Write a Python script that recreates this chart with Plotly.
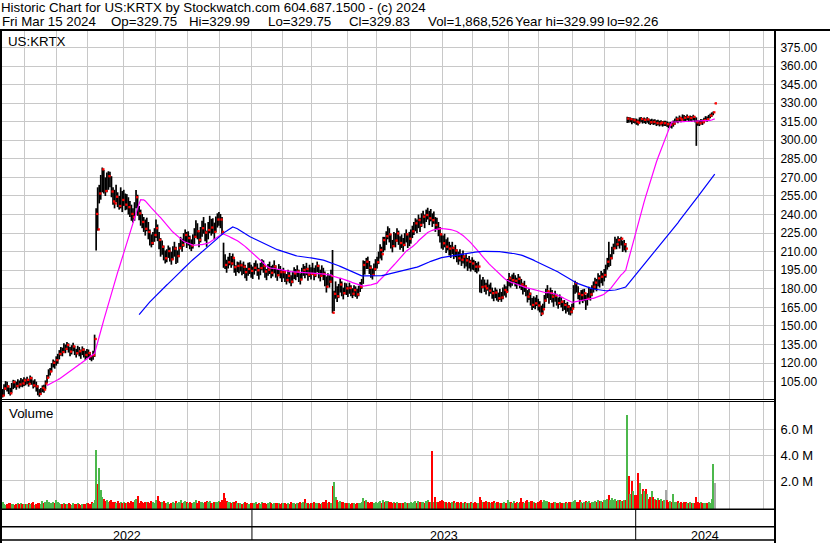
import numpy as np
import pandas as pd
import plotly.graph_objects as go

# ---------------- data ----------------
first_day = "2022-05-10"
last_axis_day = "2024-06-28"
market_holidays = [
    "2022-05-30", "2022-06-20", "2022-07-04", "2022-09-05", "2022-11-24", "2022-12-26",
    "2023-01-02", "2023-01-16", "2023-02-20", "2023-04-07", "2023-05-29", "2023-06-19",
    "2023-07-04", "2023-09-04", "2023-11-23", "2023-12-25",
    "2024-01-01", "2024-01-15", "2024-02-19", "2024-03-29", "2024-05-27", "2024-06-19",
]

close = [
    # 2022 May
    93.7, 99.5, 103.4, 101.2, 97.8, 95.6, 100.4, 104.6, 103.0, 101.5, 104.2, 102.8, 105.1, 103.6, 106.0,
    # Jun
    104.8, 106.5, 103.2, 107.8, 105.4, 102.0, 104.6, 101.2, 97.5, 95.1, 96.8, 99.9, 98.6, 103.5, 108.2,
    112.4, 113.2, 117.5, 120.3, 119.0, 122.4,
    # Jul
    124.5, 127.4, 130.6, 128.9, 133.2, 131.5, 134.6, 132.0, 129.3, 131.8, 133.5, 130.2, 128.0, 131.4,
    129.6, 127.2, 130.8, 128.5, 126.6, 128.9,
    # Aug
    128.2, 125.6, 123.3, 126.4, 139.5, 240.5, 228.0, 257.0, 268.0, 276.5, 261.2, 259.0, 265.2, 271.0,
    269.3, 258.6, 250.6, 249.0, 254.4, 252.0, 246.9, 255.0, 251.8,
    # Sep
    254.4, 248.0, 252.5, 246.0, 245.0, 240.5, 238.0, 246.4, 254.0, 244.5, 241.0, 236.5, 234.0, 231.6,
    228.5, 233.0, 226.0, 220.5, 217.0, 221.5, 223.5,
    # Oct
    229.0, 224.0, 219.5, 211.3, 214.0, 208.5, 204.7, 206.0, 210.5, 207.3, 203.8, 210.0, 212.5, 203.3,
    206.5, 213.0, 218.0, 215.5, 220.5, 223.5, 219.5,
    # Nov
    221.0, 216.8, 214.9, 218.5, 222.0, 228.9, 226.5, 219.5, 224.0, 229.0, 231.0, 225.5, 220.0, 227.5,
    232.0, 229.5, 230.8, 226.0, 233.0, 236.0, 238.3,
    # Dec
    236.0, 226.0, 205.5, 199.3, 196.7, 201.5, 204.7, 200.5, 205.0, 197.5, 193.9, 198.5, 196.7, 199.0,
    195.0, 197.8, 193.5, 191.2, 196.0, 196.8, 194.5,
    # 2023 Jan
    192.5, 197.0, 199.3, 195.0, 192.0, 196.8, 200.5, 198.4, 194.0, 191.2, 195.5, 197.8, 193.0, 195.2,
    198.0, 194.5, 191.0, 196.0, 193.5, 190.5,
    # Feb
    193.5, 189.8, 187.1, 190.5, 188.8, 185.8, 189.0, 192.5, 191.2, 194.0, 190.0, 187.5, 192.5, 195.2,
    193.0, 196.0, 191.5, 194.5, 192.0,
    # Mar
    196.5, 191.2, 194.0, 198.5, 193.0, 190.5, 195.0, 192.0, 189.0, 181.7, 188.5, 185.8, 190.4, 160.7,
    176.0, 181.7, 174.0, 178.5, 183.5, 180.0, 176.5, 181.7, 180.4,
    # Apr
    177.5, 180.7, 178.0, 176.0, 179.0, 177.7, 175.5, 178.5, 181.7, 184.0, 199.3, 196.6, 201.9, 200.6,
    197.0, 193.9, 191.2, 196.0, 199.5,
    # May
    201.5, 205.5, 211.4, 208.0, 219.4, 216.8, 222.5, 227.5, 224.0, 218.0, 214.5, 222.0, 219.0, 224.8,
    221.5, 217.0, 219.4, 215.5, 220.5, 224.0, 218.5, 220.5,
    # Jun
    223.0, 226.5, 229.0, 232.9, 230.5, 235.6, 231.6, 236.0, 238.3, 234.5, 239.6, 241.5, 237.0, 240.0,
    235.5, 238.0, 231.6, 233.0, 228.5, 224.0, 218.0,
    # Jul
    216.8, 219.5, 214.0, 216.0, 212.5, 210.0, 213.0, 208.7, 211.0, 206.5, 204.7, 207.5, 203.5, 206.0,
    201.5, 203.0, 199.5, 201.9, 198.5, 200.5,
    # Aug
    199.0, 197.9, 196.5, 198.0, 186.0, 181.5, 185.8, 182.0, 180.4, 183.5, 178.5, 181.0, 176.5, 173.7,
    177.0, 174.5, 172.4, 175.5, 173.0, 176.0, 179.0, 177.5, 183.0,
    # Sep
    188.5, 185.5, 187.0, 190.0, 186.5, 184.5, 188.0, 185.0, 183.5, 180.0, 182.0, 178.5, 173.7, 176.0,
    171.5, 167.0, 169.5, 168.3, 171.0, 166.5,
    # Oct
    165.6, 160.0, 163.5, 170.5, 175.0, 178.0, 172.5, 176.5, 173.7, 170.0, 174.5, 171.0, 168.5, 172.0,
    169.6, 166.0, 167.0, 164.0, 165.6, 162.5, 161.5, 164.0,
    # Nov
    178.0, 184.5, 181.7, 176.0, 172.4, 175.0, 173.7, 176.4, 168.3, 172.0, 177.7, 175.5, 179.0, 181.7,
    185.0, 183.0, 188.5, 186.0, 189.8, 187.5, 191.2,
    # Dec
    196.0, 201.9, 199.0, 204.7, 210.5, 212.7, 219.4, 216.0, 219.4, 216.8, 220.5, 214.0, 216.0, 212.5,
    317.5, 316.2, 317.0, 315.4, 316.2, 315.6,
    # 2024 Jan
    315.0, 314.2, 316.4, 317.2, 315.8, 316.5, 315.6, 316.8, 315.2, 314.6, 315.5, 314.8, 315.0, 313.9,
    314.5, 313.6, 314.2, 313.2, 313.8, 313.8, 313.0,
    # Feb
    312.0, 312.5, 311.8, 313.5, 315.2, 317.0, 316.2, 317.8, 316.8, 319.0, 318.2, 317.5, 318.8, 317.2,
    318.0, 317.5, 318.9, 317.0, 314.5, 314.0,
    # Mar
    313.8, 315.3, 314.6, 316.2, 317.8, 317.0, 318.6, 319.9, 320.8, 322.6, 329.83,
]

high = [
    99.0, 103.0, 105.5, 105.0, 102.0, 100.0, 104.0, 106.5, 106.0, 105.0, 107.0, 106.0, 108.0, 107.0, 108.5,
    107.5, 109.0, 107.0, 110.0, 109.0, 106.0, 107.0, 105.0, 102.0, 99.0, 100.0, 102.0, 102.5, 106.0, 110.5,
    115.0, 116.0, 120.0, 123.0, 122.0, 125.5,
    127.5, 130.5, 133.0, 132.5, 136.0, 135.0, 137.0, 136.0, 133.0, 134.5, 136.5, 134.0, 131.5, 134.0,
    133.0, 131.0, 133.5, 132.0, 130.0, 131.5,
    131.0, 129.0, 126.5, 130.0, 143.0, 245.0, 262.0, 264.0, 272.0, 278.0, 276.0, 270.0, 274.0, 275.0,
    274.5, 271.0, 262.0, 260.0, 264.0, 258.0, 255.0, 262.0, 259.0,
    260.0, 257.0, 256.5, 254.0, 251.0, 248.0, 245.0, 250.0, 259.8, 256.0, 247.0, 244.0, 240.5, 238.0,
    236.0, 237.5, 234.0, 228.0, 224.0, 226.0, 229.0,
    236.0, 232.0, 226.0, 221.0, 219.0, 215.0, 211.0, 212.0, 215.0, 213.5, 210.0, 214.5, 218.0, 214.0,
    211.0, 217.0, 222.0, 220.5, 225.0, 228.0, 226.0,
    226.5, 223.0, 220.0, 224.0, 229.0, 235.5, 233.0, 226.0, 230.0, 235.0, 238.0, 233.0, 227.0, 234.0,
    239.0, 236.5, 237.0, 233.5, 238.5, 241.0, 242.0,
    240.5, 238.0, 217.3, 208.0, 203.5, 206.0, 209.0, 206.5, 208.5, 204.0, 199.0, 202.0, 201.5, 203.0,
    200.5, 202.0, 199.5, 197.0, 201.0, 201.5, 199.5,
    198.0, 201.0, 203.0, 200.5, 197.0, 201.0, 204.0, 203.0, 199.0, 196.0, 200.0, 202.0, 198.5, 199.5,
    203.0, 199.0, 196.0, 200.0, 198.5, 195.5,
    197.0, 195.0, 192.0, 195.5, 193.5, 191.0, 194.0, 197.5, 196.0, 199.0, 195.5, 192.5, 197.0, 200.0,
    198.5, 201.0, 197.0, 199.5, 197.5,
    201.0, 197.0, 199.0, 202.0, 199.5, 195.5, 199.0, 197.0, 194.0, 190.0, 192.5, 191.0, 195.5, 211.4,
    178.5, 186.0, 182.0, 184.0, 188.6, 186.0, 181.0, 185.0, 184.5,
    182.0, 185.0, 183.0, 180.5, 183.0, 182.0, 180.0, 182.5, 185.5, 188.0, 203.0, 202.5, 205.0, 206.0,
    202.5, 199.0, 196.5, 200.5, 204.0,
    206.0, 210.0, 216.0, 214.0, 222.0, 222.0, 226.5, 230.5, 229.0, 224.0, 219.5, 226.0, 225.0, 229.0,
    227.0, 222.5, 224.0, 221.0, 225.0, 228.0, 224.5, 226.0,
    228.0, 231.0, 234.0, 237.0, 236.0, 240.0, 237.5, 241.0, 243.0, 240.0, 244.0, 245.5, 243.0, 244.5,
    241.0, 242.5, 238.0, 237.5, 234.0, 230.0, 225.0,
    223.0, 224.5, 220.0, 221.5, 218.0, 215.5, 218.0, 214.0, 215.5, 212.0, 210.0, 212.0, 208.5, 211.0,
    207.0, 208.0, 205.0, 206.5, 203.5, 205.5,
    203.5, 202.5, 201.0, 202.0, 191.5, 187.5, 189.5, 187.5, 185.0, 187.5, 183.5, 185.0, 181.0, 178.5,
    181.0, 179.5, 177.0, 180.0, 177.5, 181.0, 183.5, 182.0, 188.0,
    192.8, 190.0, 191.5, 193.0, 191.0, 189.0, 192.0, 190.0, 188.0, 185.0, 186.5, 183.0, 179.0, 180.5,
    177.0, 172.5, 174.0, 173.0, 175.0, 172.0,
    170.0, 166.5, 168.0, 175.0, 180.0, 183.0, 178.0, 181.0, 179.0, 175.5, 178.5, 176.0, 173.0, 175.5,
    173.4, 170.5, 171.0, 168.5, 169.5, 167.0, 165.5, 168.0,
    183.0, 186.5, 185.5, 182.0, 177.0, 179.0, 179.5, 180.0, 175.0, 176.5, 181.7, 180.0, 183.0, 186.0,
    189.0, 188.0, 192.5, 191.0, 194.5, 193.0, 196.0,
    199.5, 205.0, 218.0, 208.0, 214.0, 216.5, 222.0, 220.5, 222.5, 221.0, 222.0, 219.0, 219.5, 217.0,
    319.0, 318.8, 318.5, 318.0, 317.8, 317.6,
    317.5, 316.8, 318.5, 318.8, 318.0, 318.5, 317.6, 318.7, 317.5, 316.9, 317.4, 316.8, 316.9, 316.2,
    316.5, 315.8, 316.2, 315.5, 315.7, 315.8, 315.2,
    314.5, 314.8, 314.0, 316.0, 317.5, 319.2, 318.5, 320.0, 319.0, 320.9, 320.4, 319.6, 320.8, 319.5,
    320.0, 319.5, 320.6, 319.2, 318.5, 316.2,
    316.0, 317.2, 316.8, 318.2, 319.5, 319.2, 320.5, 321.5, 322.5, 323.2, 329.99,
]

low = [
    92.26, 93.5, 98.5, 97.0, 95.0, 93.8, 96.0, 99.0, 100.0, 98.5, 100.5, 99.5, 101.0, 100.5, 101.5,
    102.0, 103.0, 101.0, 103.5, 102.5, 99.5, 100.5, 97.0, 94.0, 92.8, 94.5, 96.5, 96.0, 99.0, 104.0,
    108.0, 110.0, 113.0, 116.5, 115.5, 118.0,
    119.5, 123.0, 126.0, 125.5, 128.5, 128.0, 130.5, 128.5, 125.5, 127.0, 129.5, 126.5, 124.5, 127.0,
    125.5, 123.5, 126.5, 124.5, 122.5, 124.0,
    124.5, 122.5, 121.5, 122.8, 125.0, 211.0, 227.0, 249.0, 252.0, 258.0, 257.0, 255.0, 258.0, 260.0,
    262.0, 254.0, 248.0, 245.0, 250.0, 246.0, 244.0, 245.0, 242.0,
    247.0, 243.5, 244.0, 240.0, 238.0, 235.0, 233.5, 235.0, 245.0, 239.0, 235.5, 231.0, 229.0, 226.0,
    223.0, 226.5, 220.0, 215.0, 213.5, 215.5, 218.0,
    221.0, 218.5, 212.0, 206.0, 207.5, 203.0, 200.5, 201.5, 205.0, 202.0, 199.5, 203.5, 206.0, 200.0,
    201.0, 205.5, 212.0, 210.0, 214.0, 217.5, 213.0,
    215.0, 212.0, 210.5, 212.5, 216.0, 221.5, 220.0, 213.5, 217.5, 222.0, 224.5, 218.5, 214.0, 220.0,
    225.0, 223.0, 224.5, 220.0, 226.0, 229.5, 231.0,
    229.0, 224.0, 197.0, 196.0, 193.0, 196.5, 199.0, 197.0, 199.0, 193.0, 190.5, 193.5, 192.5, 194.0,
    191.0, 192.0, 188.5, 186.5, 190.5, 192.0, 189.0,
    188.0, 191.5, 194.5, 190.5, 187.5, 191.0, 195.0, 193.0, 189.0, 187.0, 190.5, 192.0, 188.5, 190.0,
    192.5, 189.0, 186.5, 190.5, 188.5, 185.5,
    188.5, 185.5, 183.5, 186.0, 184.5, 182.0, 184.5, 188.0, 187.0, 189.5, 185.5, 183.5, 187.5, 190.5,
    188.5, 191.0, 186.5, 189.5, 187.5,
    192.0, 187.0, 189.5, 193.5, 188.5, 186.0, 190.0, 187.0, 182.0, 177.0, 182.5, 181.0, 185.0, 160.3,
    162.0, 172.0, 169.4, 172.5, 177.0, 174.0, 171.5, 175.5, 175.0,
    173.4, 176.0, 174.0, 172.5, 174.5, 173.5, 172.0, 174.0, 177.5, 180.0, 184.0, 191.5, 196.0, 196.0,
    192.0, 189.0, 187.5, 190.5, 194.5,
    196.5, 200.0, 204.5, 203.0, 209.5, 211.0, 215.5, 220.0, 217.5, 212.5, 209.5, 214.0, 213.5, 218.0,
    215.5, 211.5, 213.0, 210.0, 214.5, 217.5, 213.0, 214.5,
    216.5, 221.0, 223.5, 226.5, 225.0, 229.0, 226.0, 230.0, 232.5, 229.0, 234.0, 236.0, 231.5, 234.5,
    230.0, 232.5, 226.0, 227.5, 222.5, 217.5, 212.5,
    211.5, 213.5, 209.0, 211.0, 207.0, 205.0, 208.0, 204.0, 205.5, 201.5, 199.5, 202.0, 198.5, 200.5,
    196.5, 198.0, 194.5, 196.5, 194.0, 195.5,
    195.0, 193.5, 192.5, 194.0, 177.0, 176.5, 180.5, 177.5, 175.5, 178.5, 174.0, 176.0, 172.0, 170.0,
    172.5, 170.5, 169.5, 171.0, 169.5, 171.5, 174.5, 173.0, 177.5,
    182.0, 181.0, 182.5, 185.0, 182.0, 180.0, 183.0, 180.5, 179.0, 175.5, 177.5, 174.0, 169.0, 171.0,
    166.5, 163.0, 164.5, 163.5, 166.0, 162.5,
    161.0, 158.0, 159.5, 164.5, 169.5, 172.5, 168.0, 171.0, 169.0, 165.5, 169.5, 166.5, 164.0, 167.0,
    165.0, 162.0, 163.0, 160.0, 161.5, 159.0, 158.5, 160.0,
    164.5, 176.0, 177.0, 171.5, 167.5, 170.0, 168.5, 170.0, 163.0, 166.5, 171.5, 170.5, 174.0, 177.0,
    179.5, 178.0, 182.0, 181.0, 184.5, 182.5, 186.0,
    189.0, 195.5, 197.5, 198.5, 204.0, 208.0, 212.5, 212.0, 214.5, 212.5, 215.0, 209.8, 211.0, 209.5,
    314.0, 314.2, 314.5, 313.0, 314.0, 313.5,
    312.5, 312.0, 313.8, 314.6, 313.5, 314.0, 313.2, 314.2, 313.0, 312.3, 313.2, 312.4, 312.8, 311.5,
    312.2, 311.2, 312.0, 311.0, 311.5, 311.5, 310.8,
    309.8, 310.2, 309.5, 311.0, 312.5, 314.5, 313.8, 315.2, 314.5, 316.0, 315.6, 315.0, 316.2, 314.8,
    315.5, 315.0, 316.0, 314.5, 295.5, 311.8,
    311.5, 312.8, 312.4, 313.8, 315.5, 315.0, 316.6, 317.8, 318.8, 320.2, 329.75,
]

volume_m = [
    0.35, 0.22, 0.18, 0.25, 0.30, 0.28, 0.20, 0.24, 0.18, 0.22, 0.26, 0.20, 0.32, 0.25, 0.22,
    0.20, 0.24, 0.30, 0.22, 0.26, 0.35, 0.18, 0.22, 0.28, 0.30, 0.24, 0.45, 0.32, 0.38, 0.55,
    0.40, 0.30, 0.26, 0.34, 0.28, 0.50,
    0.35, 0.30, 0.25, 0.22, 0.28, 0.20, 0.24, 0.30, 0.22, 0.18, 0.26, 0.20, 0.24, 0.28, 0.22,
    0.18, 0.20, 0.25, 0.22, 0.30,
    0.28, 0.24, 0.35, 0.30, 0.55, 4.40, 1.75, 3.00, 1.30, 0.75, 0.60, 0.45, 0.50, 0.38, 0.42,
    0.55, 0.35, 0.40, 0.30, 0.45, 0.32, 0.38, 0.30,
    0.35, 0.28, 0.30, 0.40, 0.32, 0.45, 0.35, 0.50, 0.62, 0.85, 0.30, 0.42, 0.35, 0.28, 0.40,
    0.40, 0.35, 0.30, 0.45, 0.38, 0.32,
    0.55, 0.85, 0.45, 0.40, 0.35, 0.48, 0.30, 0.28, 0.35, 0.25, 0.32, 0.40, 0.30, 0.45, 0.28,
    0.35, 0.50, 0.30, 0.40, 0.45, 0.35,
    0.30, 0.35, 0.28, 0.32, 0.40, 0.55, 0.30, 0.45, 0.35, 0.40, 0.32, 0.38, 0.48, 0.35, 0.42,
    0.30, 0.28, 0.35, 0.40, 0.38, 0.45,
    0.40, 0.50, 1.10, 0.65, 0.45, 0.35, 0.40, 0.30, 0.38, 0.35, 0.42, 0.28, 0.32, 0.30, 0.25,
    0.28, 0.35, 0.30, 0.25, 0.22, 0.28,
    0.30, 0.28, 0.35, 0.25, 0.30, 0.22, 0.40, 0.32, 0.28, 0.25, 0.30, 0.35, 0.28, 0.22, 0.30,
    0.26, 0.32, 0.28, 0.24, 0.30,
    0.28, 0.32, 0.25, 0.30, 0.22, 0.35, 0.28, 0.30, 0.25, 0.32, 0.28, 0.40, 0.30, 0.35, 0.60,
    0.28, 0.32, 0.25, 0.30,
    0.30, 0.35, 0.28, 0.32, 0.30, 0.25, 0.28, 0.35, 0.40, 0.50, 0.32, 0.35, 0.30, 1.60, 1.90,
    0.80, 0.50, 0.40, 0.45, 0.35, 0.38, 0.30, 0.28,
    0.28, 0.32, 0.25, 0.30, 0.28, 0.22, 0.30, 0.26, 0.32, 0.40, 0.70, 0.45, 0.50, 0.38, 0.32,
    0.35, 0.40, 0.30, 0.35,
    0.30, 0.35, 0.45, 0.32, 0.50, 0.38, 0.42, 0.48, 0.35, 0.40, 0.32, 0.38, 0.30, 0.35, 0.28,
    0.32, 0.30, 0.26, 0.35, 0.30, 0.28, 0.32,
    0.35, 0.30, 0.38, 0.42, 0.32, 0.45, 0.35, 0.40, 0.38, 0.30, 0.42, 0.50, 0.35, 0.40, 4.30,
    0.40, 0.75, 0.35, 0.40, 0.45, 0.50,
    0.45, 0.35, 0.40, 0.30, 0.38, 0.32, 0.35, 0.42, 0.30, 0.35, 0.40, 0.32, 0.38, 0.30, 0.35,
    0.28, 0.32, 0.30, 0.35, 0.28,
    0.30, 0.35, 0.32, 0.28, 0.75, 0.50, 0.40, 0.35, 0.45, 0.38, 0.40, 0.32, 0.35, 0.42, 0.30,
    0.35, 0.38, 0.30, 0.28, 0.32, 0.35, 0.30, 0.55,
    0.40, 0.35, 0.30, 0.45, 0.32, 0.38, 0.30, 0.35, 0.70, 0.40, 0.32, 0.45, 0.50, 0.35, 0.42,
    0.48, 0.35, 0.30, 0.32, 0.40,
    0.45, 0.55, 0.38, 0.50, 0.42, 0.45, 0.35, 0.32, 0.30, 0.35, 0.40, 0.32, 0.30, 0.35, 0.28,
    0.32, 0.30, 0.35, 0.30, 0.38, 0.35, 0.40,
    0.45, 0.55, 0.40, 0.35, 0.50, 0.38, 0.32, 0.35, 0.42, 0.38, 0.45, 0.32, 0.35, 0.40, 0.45,
    0.38, 0.50, 0.42, 0.48, 0.40, 0.55,
    0.50, 0.60, 0.95, 0.55, 0.65, 0.50, 0.60, 0.45, 0.50, 0.55, 0.48, 0.45, 0.50, 0.55, 7.10,
    2.40, 1.00, 2.00, 1.20, 0.95,
    0.90, 2.65, 1.85, 1.00, 1.40, 1.20, 1.40, 1.00, 0.60, 0.80, 1.20, 0.80, 0.60, 0.55, 0.70,
    0.50, 0.60, 0.45, 0.55, 1.30, 0.50,
    0.40, 0.45, 0.35, 1.00, 0.40, 0.35, 0.45, 0.30, 0.38, 0.32, 0.40, 0.35, 0.30, 0.28, 0.35,
    0.30, 0.28, 0.32, 0.80, 0.40,
    0.30, 0.35, 0.28, 0.30, 0.32, 0.28, 0.35, 0.30, 0.60, 3.30, 1.87,
]

price_ticks = list(range(105, 376, 15))
volume_ticks = [2, 4, 6]
volume_tick_text = ["2.0 M", "4.0 M", "6.0 M"]

title_text = "Historic Chart for US:KRTX by Stockwatch.com 604.687.1500 - (c) 2024"
quote_items = ["Fri Mar 15 2024", "Op=329.75", "Hi=329.99", "Lo=329.75", "Cl=329.83",
               "Vol=1,868,526", "Year hi=329.99", "lo=92.26"]
symbol_text = "US:KRTX"
ma_short, ma_long = 30, 90

# ---------------- layout geometry (pixels) ----------------
W, H = 830, 543
PL, PR, PT, PB = 2, 775, 31, 509        # plot area
PRICE_BOTTOM, VOL_TOP = 399, 402
BAR0_PX, PX_PER_DAY = 2.5, 1.535
BAR_W_PX = 1.7
FONT = "Arial, 'Liberation Sans', sans-serif"
GRID = "#c8c8c8"


def px_x(p):
    return (p - PL) / (PR - PL)


def px_y(p):
    return (PB - p) / (PB - PT)


n = min(len(close), len(high), len(low), len(volume_m))
close, high, low, volume_m = close[:n], high[:n], low[:n], volume_m[:n]
xs = np.arange(n)

x_lo = (PL - BAR0_PX) / PX_PER_DAY
x_hi = (PR - BAR0_PX) / PX_PER_DAY

days = pd.bdate_range(first_day, last_axis_day)
days = days[~days.isin(pd.to_datetime(market_holidays))]
month_bounds, year_bounds = [], []
for i in range(1, len(days)):
    b = i - 0.5
    if b > x_hi:
        break
    if days[i].month != days[i - 1].month:
        month_bounds.append(b)
    if days[i].year != days[i - 1].year:
        year_bounds.append(b)

s = pd.Series(close)
ma_a = s.rolling(ma_short).mean()
ma_b = s.rolling(ma_long).mean()

bar_x, bar_y = [], []
for i in range(n):
    bar_x += [i, i, None]
    bar_y += [low[i], high[i], None]

# Close ticks: in the source each day's bar is painted after the previous day's close tick,
# so a tick stays visible only where the next bar (one pixel column away) does not cover it.
tick_x, tick_y = [], []
for i in range(n):
    px_now = int(round(BAR0_PX + i * PX_PER_DAY))
    px_next = int(round(BAR0_PX + (i + 1) * PX_PER_DAY))
    covered = (i + 1 < n and px_next - px_now < 2 and low[i + 1] <= close[i] <= high[i + 1])
    if not covered:
        tick_x.append(i + 0.7)
        tick_y.append(close[i])

vol_colors = []
for i in range(n):
    if i == n - 1:
        vol_colors.append("#a8a8a8")
    elif i == 0 or close[i] > close[i - 1]:
        vol_colors.append("#4cb84c")
    elif close[i] < close[i - 1]:
        vol_colors.append("#ff0000")
    else:
        vol_colors.append("#a8a8a8")

fig = go.Figure()
fig.add_trace(go.Scatter(x=bar_x, y=bar_y, mode="lines", line=dict(color="black", width=BAR_W_PX),
                         hoverinfo="skip", xaxis="x", yaxis="y"))
fig.add_trace(go.Scatter(x=tick_x, y=tick_y, mode="markers",
                         marker=dict(symbol="square", size=2.3, color="#ff0000", line=dict(width=0)),
                         hoverinfo="skip", xaxis="x", yaxis="y"))
fig.add_trace(go.Scatter(x=xs, y=ma_a, mode="lines", line=dict(color="#ff00ff", width=1.2),
                         hoverinfo="skip", xaxis="x", yaxis="y"))
fig.add_trace(go.Scatter(x=xs, y=ma_b, mode="lines", line=dict(color="#0000ff", width=1.2),
                         hoverinfo="skip", xaxis="x", yaxis="y"))

# volume axis placement: 2 M gridline spacing and bottom offset from the picture
v_px_per_m = 12.93
v_zero_px = 506.85
v_lo = -(PB - v_zero_px) / v_px_per_m
v_hi = (v_zero_px - VOL_TOP) / v_px_per_m
fig.add_trace(go.Bar(x=xs, y=[v - v_lo for v in volume_m], base=v_lo, width=1.3,
                     marker=dict(color=vol_colors, line=dict(width=0)),
                     hoverinfo="skip", xaxis="x2", yaxis="y2"))

# price axis placement
p_ref, p_ref_px, p_px_per_unit = 360.0, 66.0, 1.238
p_top = p_ref + (p_ref_px - PT) / p_px_per_unit
p_bot = p_ref - (PRICE_BOTTOM - p_ref_px) / p_px_per_unit

xaxis_common = dict(range=[x_lo, x_hi], tickvals=month_bounds, showticklabels=False, ticks="",
                    showgrid=True, gridcolor=GRID, gridwidth=1, zeroline=False, showline=False,
                    fixedrange=True)
fig.update_layout(
    width=W, height=H,
    margin=dict(l=PL, r=W - PR, t=PT, b=H - PB, pad=0),
    paper_bgcolor="white", plot_bgcolor="white", showlegend=False,
    bargap=0, barmode="overlay",
    xaxis=dict(domain=[0, 1], anchor="y", **xaxis_common),
    xaxis2=dict(domain=[0, 1], anchor="y2", matches="x", **xaxis_common),
    yaxis=dict(domain=[px_y(PRICE_BOTTOM), 1], range=[p_bot, p_top], side="right",
               tickvals=price_ticks, ticktext=[f"{v:.2f}" for v in price_ticks],
               tickfont=dict(family=FONT, size=12, color="black"),
               ticks="outside", ticklen=2, tickcolor="rgba(0,0,0,0)", fixedrange=True,
               showgrid=True, gridcolor=GRID, gridwidth=1, zeroline=False, showline=False),
    yaxis2=dict(domain=[0, px_y(VOL_TOP)], range=[v_lo, v_hi], side="right",
                tickvals=volume_ticks, ticktext=volume_tick_text,
                tickfont=dict(family=FONT, size=13, color="black"),
                ticks="outside", ticklen=2, tickcolor="rgba(0,0,0,0)", fixedrange=True,
                showgrid=True, gridcolor=GRID, gridwidth=1, zeroline=False, showline=False),
)

ann = []
txt_font = dict(family=FONT, size=13.3, color="black")
ann.append(dict(text=title_text, xref="paper", yref="paper", x=px_x(0), y=px_y(7.5),
                xanchor="left", yanchor="middle", showarrow=False, borderpad=0, font=txt_font))
quote_px = [1, 110, 188, 267, 348, 427, 514, 606]
for t, p in zip(quote_items, quote_px):
    ann.append(dict(text=t, xref="paper", yref="paper", x=px_x(p), y=px_y(22),
                    xanchor="left", yanchor="middle", showarrow=False, borderpad=0, font=txt_font))
ann.append(dict(text=symbol_text, xref="paper", yref="paper", x=px_x(7), y=px_y(41.5),
                xanchor="left", yanchor="middle", showarrow=False, borderpad=0, font=txt_font))
ann.append(dict(text="Volume", xref="paper", yref="paper", x=px_x(8), y=px_y(413.5),
                xanchor="left", yanchor="middle", showarrow=False, borderpad=0, font=txt_font))
edges = [x_lo] + year_bounds + [x_hi]
for k in range(len(edges) - 1):
    yr = days[int(np.ceil(edges[k] + 0.5))].year if k > 0 else days[0].year
    ann.append(dict(text=str(yr), xref="x", yref="paper", x=(edges[k] + edges[k + 1]) / 2,
                    y=px_y(535.5), xanchor="center", yanchor="middle", showarrow=False, borderpad=0,
                    font=dict(family=FONT, size=12.5, color="black")))
fig.update_layout(annotations=ann)


def hline(ypx, x0, x1, w):
    return dict(type="line", xref="paper", yref="paper", x0=px_x(x0), x1=px_x(x1),
                y0=px_y(ypx), y1=px_y(ypx), line=dict(color="black", width=w), layer="above")


def vline(xpx, y0, y1, w):
    return dict(type="line", xref="paper", yref="paper", x0=px_x(xpx), x1=px_x(xpx),
                y0=px_y(y0), y1=px_y(y1), line=dict(color="black", width=w), layer="above")


shapes = [
    hline(30, 0, W, 2),
    vline(1, 30, H, 2),
    vline(775, 30, H, 2),
    hline(399.5, 0, 775, 1),
    hline(401.5, 0, 775, 1),
    hline(509.3, 0, 775, 1.5),
    hline(526.7, 0, 775, 1.5),
    hline(540, 0, 775, 1.5),
]
for b in year_bounds:
    shapes.append(dict(type="line", xref="x", yref="paper", x0=b, x1=b,
                       y0=px_y(509), y1=px_y(540), line=dict(color="black", width=1), layer="above"))
fig.update_layout(shapes=shapes)

fig.write_html("out.html", config={"displayModeBar": False, "staticPlot": True},
               post_script="document.body.style.margin='0px';document.body.style.overflow='hidden';")
